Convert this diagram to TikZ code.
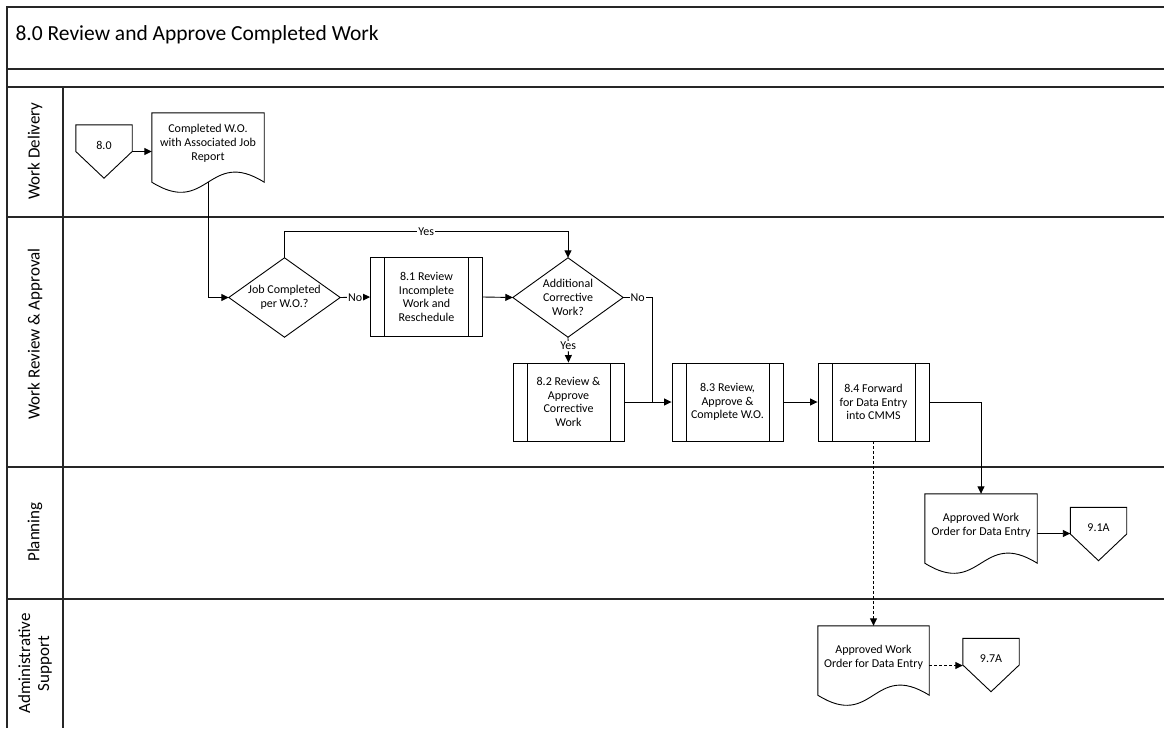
\documentclass[tikz,border=0pt]{standalone}
\usepackage{fontspec}
\setmainfont{Carlito}
\usetikzlibrary{arrows.meta,calc}

\tikzset{
  frame/.style={line width=1.2pt, draw=black!85},
  shapeln/.style={draw=black, line width=0.9pt},
  txt/.style={font=\fontsize{12}{13.8}\selectfont, align=center},
  hold/.style={rectangle, inner sep=0pt, txt},
  procbox/.style={rectangle, draw=black, line width=0.9pt, inner sep=0pt, txt,
    minimum width=112, minimum height=79,
    path picture={
      \draw[line width=0.9pt] ([xshift=14pt]path picture bounding box.north west) -- ([xshift=14pt]path picture bounding box.south west);
      \draw[line width=0.9pt] ([xshift=-14pt]path picture bounding box.north east) -- ([xshift=-14pt]path picture bounding box.south east);
    }},
  offpg/.style={hold, minimum width=56, minimum height=53},
  docbox/.style={hold, minimum width=112, minimum height=79},
  question/.style={hold, minimum width=111, minimum height=79},
  flow/.style={line width=0.9pt, -{Triangle[length=7.5pt,width=7pt]}},
  plain/.style={line width=0.9pt},
  dots/.style={dash pattern=on 3pt off 2pt},
  lbl/.style={fill=white, inner sep=1pt, font=\fontsize{12}{13}\selectfont},
  lane/.style={font=\fontsize{17}{19}\selectfont, rotate=90, align=center},
}

% outlines of the custom flowchart symbols, drawn from a node's anchors
\newcommand\offpagepath[1]{\draw[shapeln] (#1.north west) -- (#1.north east) -- (#1.east) -- (#1.south) -- (#1.west) -- cycle;}
\newcommand\diamondpath[1]{\draw[shapeln] (#1.north) -- (#1.east) -- (#1.south) -- (#1.west) -- cycle;}
\newcommand\docpath[1]{\draw[shapeln] (#1.north west) -- (#1.north east) -- ([yshift=10pt]#1.south east)
  .. controls ([xshift=-56pt,yshift=45pt]#1.south east) and ([xshift=56pt,yshift=-25pt]#1.south west) ..
  ([yshift=10pt]#1.south west) -- cycle;}

\begin{document}
\begin{tikzpicture}[x=1pt,y=-1pt]
\useasboundingbox (0,0) rectangle (1164,728);

% swimlane frame
\draw[frame] (1164,7) -- (7,7) -- (7,728);
\foreach \yy in {69,87,217,467,599} \draw[frame] (7,\yy) -- (1164,\yy);
\draw[frame] (63,87) -- (63,728);

\node[anchor=base west, font=\fontsize{21.5}{24}\selectfont] (title) at (12,40.5) {8.0 Review and Approve Completed Work};

\node[lane] (lnWD) at (35,151) {Work Delivery};
\node[lane] (lnWR) at (35,334) {Work Review \& Approval};
\node[lane] (lnPL) at (35,532) {Planning};
\node[lane] (lnAS) at (35,663.5) {Administrative\\Support};

% Work Delivery
\node[offpg, label={[txt, yshift=6pt]center:8.0}] (c80) at (104,151.5) {};
\offpagepath{c80}
\node[docbox, label={[txt, yshift=9.5pt]center:Completed W.O.\\with Associated Job\\Report}] (d1) at (208,152.5) {};
\docpath{d1}

% Work Review & Approval
\node[question] (q1) at (284.5,297.5) {Job Completed\\per W.O.?};
\diamondpath{q1}
\node[procbox] (b81) at (426.5,297) {8.1 Review\\Incomplete\\Work and\\Reschedule};
\node[question, minimum width=110] (q2) at (568,297.5) {Additional\\Corrective\\Work?};
\diamondpath{q2}
\node[procbox, minimum width=111, minimum height=78] (b82) at (568.5,402) {8.2 Review \&\\Approve\\Corrective\\Work};
\node[procbox, minimum width=111, minimum height=78] (b83) at (727.5,402) {8.3 Review,\\Approve \&\\Complete W.O.};
\node[procbox, minimum width=111, minimum height=78] (b84) at (873.5,402) {8.4 Forward\\for Data Entry\\into CMMS};
\coordinate (jn) at (652,402);

% Planning
\node[docbox, label={[txt, yshift=8pt]center:Approved Work\\Order for Data Entry}] (d2) at (981,533.5) {};
\docpath{d2}
\node[offpg, label={[txt, yshift=6pt]center:9.1A}] (c91) at (1098.5,534) {};
\offpagepath{c91}

% Administrative Support
\node[docbox, minimum width=111, label={[txt, yshift=8pt]center:Approved Work\\Order for Data Entry}] (d3) at (873.5,665.5) {};
\docpath{d3}
\node[offpg, label={[txt, yshift=6pt]center:9.7A}] (c97) at (991,665) {};
\offpagepath{c97}

% connectors
\draw[flow] (c80.east) -- (c80.east -| d1.west);
\draw[flow] ([yshift=10pt]d1.south) |- (q1.west);
\draw[flow] (q1.north) -- ++(0,-26) coordinate (ytop) -- node[lbl]{Yes} (ytop -| q2.north) -- (q2.north);
\draw[flow] (q1.east) -- node[lbl]{No} (b81.west);
\draw[flow] (b81.east) -- (q2.west);
\draw[flow] (q2.south) -- node[lbl, pos=0.35]{Yes} (b82.north);
\draw[flow] (q2.east) -- node[lbl]{No} (q2.east -| jn) -- (jn) -- (b83.west);
\draw[plain] (b82.east) -- (jn);
\draw[flow] (b83.east) -- (b84.west);
\draw[flow] (b84.east) -| (d2.north);
\draw[flow] (d2.east) -- (d2.east -| c91.west);
\draw[flow, dots] (b84.south) -- (d3.north);
\draw[flow, dots] (d3.east) -- (d3.east -| c97.west);
\end{tikzpicture}
\end{document}
